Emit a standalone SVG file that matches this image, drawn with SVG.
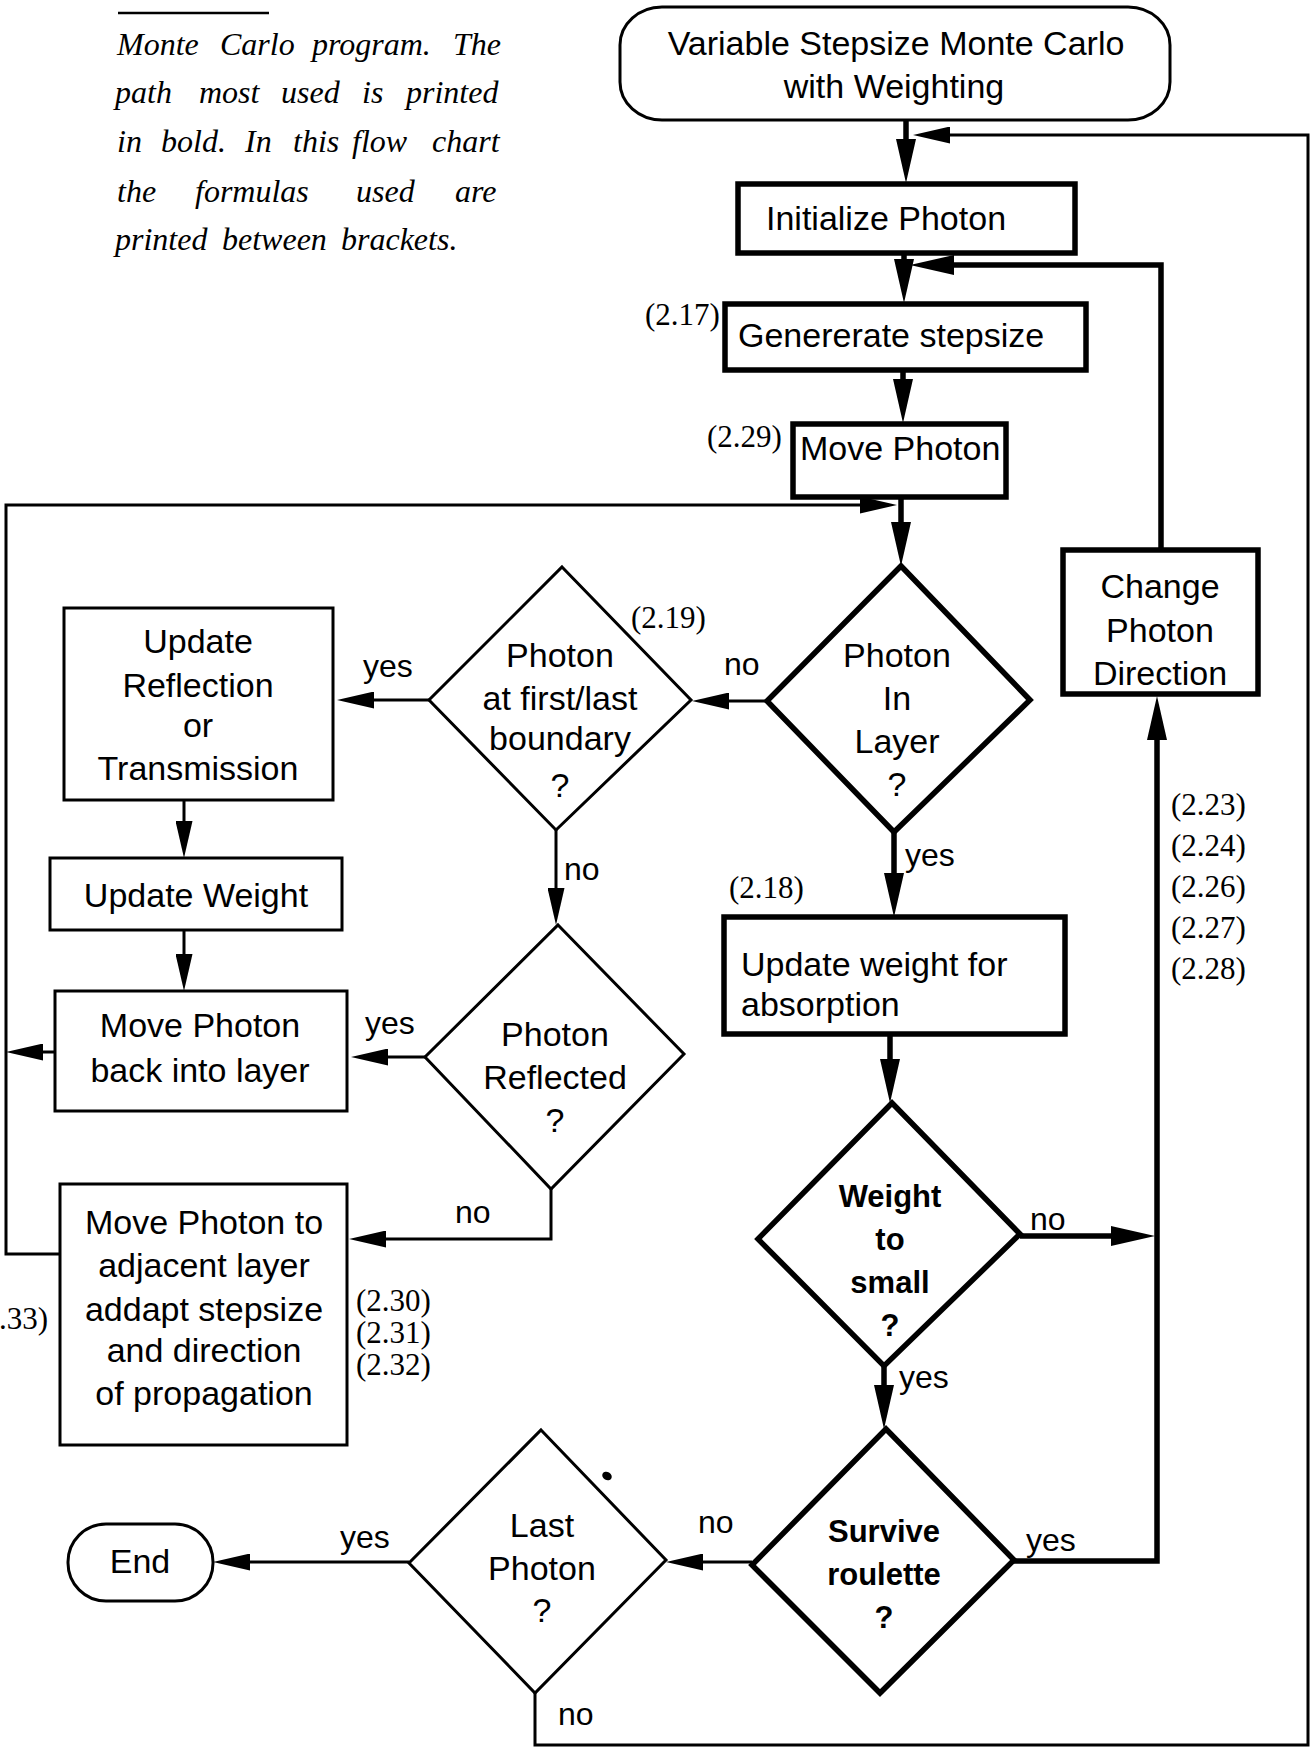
<svg xmlns="http://www.w3.org/2000/svg" width="1312" height="1749" viewBox="0 0 1312 1749">
<defs>
<style>
.bg{fill:#fff}
.thick{fill:none;stroke:#000;stroke-width:5.5;stroke-linejoin:miter}
.thin{fill:none;stroke:#000;stroke-width:3;stroke-linejoin:miter}
.node-thick{fill:#fff;stroke:#000;stroke-width:5.5}
.node-thin{fill:#fff;stroke:#000;stroke-width:3}
.t{font-family:"Liberation Sans",Arial,sans-serif;font-size:34px;fill:#000}
.c{text-anchor:middle}
.b{font-weight:bold;font-size:31px}
.lab{font-family:"Liberation Sans",Arial,sans-serif;font-size:32px;fill:#000}
.eq{font-family:"Liberation Serif","Times New Roman",serif;font-size:31px;fill:#000}
.cap{font-family:"Liberation Serif","Times New Roman",serif;font-style:italic;font-size:32px;fill:#000}
</style>
<marker id="ahT" markerUnits="userSpaceOnUse" markerWidth="44" markerHeight="20" viewBox="0 0 44 20" refX="0" refY="10" orient="auto"><path d="M0,0 L44,10 L0,20 z" fill="#000"/></marker>
<marker id="aht" markerUnits="userSpaceOnUse" markerWidth="37" markerHeight="17" viewBox="0 0 37 17" refX="0" refY="8.5" orient="auto"><path d="M0,0 L37,8.5 L0,17 z" fill="#000"/></marker>
</defs>
<rect class="bg" x="0" y="0" width="1312" height="1749"/>

<g id="caption">
<line x1="118" y1="13" x2="269" y2="13" stroke="#000" stroke-width="2.5"/>
<text class="cap" y="55"><tspan x="117">Monte</tspan><tspan x="220">Carlo</tspan><tspan x="312">program.</tspan><tspan x="453">The</tspan></text>
<text class="cap" y="103"><tspan x="115">path</tspan><tspan x="199">most</tspan><tspan x="281">used</tspan><tspan x="362">is</tspan><tspan x="406">printed</tspan></text>
<text class="cap" y="152"><tspan x="117">in</tspan><tspan x="161">bold.</tspan><tspan x="245">In</tspan><tspan x="293">this</tspan><tspan x="352">flow</tspan><tspan x="432">chart</tspan></text>
<text class="cap" y="202"><tspan x="117">the</tspan><tspan x="195">formulas</tspan><tspan x="356">used</tspan><tspan x="455">are</tspan></text>
<text class="cap" y="250"><tspan x="115">printed</tspan><tspan x="222">between</tspan><tspan x="341">brackets.</tspan></text>
</g>

<g id="connectors">
<path class="thick" d="M906,120 V139" marker-end="url(#ahT)"/>
<path class="thick" d="M904,253 V259" marker-end="url(#ahT)"/>
<path class="thick" d="M903,370 V379" marker-end="url(#ahT)"/>
<path class="thick" d="M901,497 V522" marker-end="url(#ahT)"/>
<path class="thick" d="M894,832 V873" marker-end="url(#ahT)"/>
<path class="thick" d="M890,1034 V1059" marker-end="url(#ahT)"/>
<path class="thick" d="M884,1366 V1385" marker-end="url(#ahT)"/>
<path class="thick" d="M1020,1236 H1111" marker-end="url(#ahT)"/>
<path class="thick" d="M1014,1561 H1157 V740" marker-end="url(#ahT)"/>
<path class="thick" d="M1161,550 V265 H954" marker-end="url(#ahT)"/>
<path class="thin" d="M767,701 H729" marker-end="url(#aht)"/>
<path class="thin" d="M429,700 H374" marker-end="url(#aht)"/>
<path class="thin" d="M556,830 V888" marker-end="url(#aht)"/>
<path class="thin" d="M425,1057 H388" marker-end="url(#aht)"/>
<path class="thin" d="M551,1189 V1239 H386" marker-end="url(#aht)"/>
<path class="thin" d="M184,800 V821" marker-end="url(#aht)"/>
<path class="thin" d="M184,930 V954" marker-end="url(#aht)"/>
<path class="thin" d="M55,1052 H43" marker-end="url(#aht)"/>
<path class="thin" d="M60,1254 H6 V505 H860" marker-end="url(#aht)"/>
<path class="thin" d="M752,1562 H703" marker-end="url(#aht)"/>
<path class="thin" d="M409,1562 H250" marker-end="url(#aht)"/>
<path class="thin" d="M535,1693 V1745 H1308 V135 H950" marker-end="url(#aht)"/>
<text class="lab" x="363" y="677">yes</text>
<text class="lab" x="724" y="675">no</text>
<text class="lab" x="564" y="880">no</text>
<text class="lab" x="365" y="1034">yes</text>
<text class="lab" x="455" y="1223">no</text>
<text class="lab" x="905" y="866">yes</text>
<text class="lab" x="1030" y="1230">no</text>
<text class="lab" x="899" y="1388">yes</text>
<text class="lab" x="1026" y="1551">yes</text>
<text class="lab" x="698" y="1533">no</text>
<text class="lab" x="340" y="1548">yes</text>
<text class="lab" x="558" y="1725">no</text>
<ellipse cx="607" cy="1476" rx="5" ry="4" transform="rotate(30 607 1476)" fill="#000"/>
</g>

<g id="start">
<rect class="node-thin" x="620" y="7" width="550" height="113" rx="42" ry="38"/>
<text class="t c" x="896" y="55">Variable Stepsize Monte Carlo</text>
<text class="t c" x="894" y="98">with Weighting</text>
</g>

<g id="initialize">
<rect class="node-thick" x="738" y="184" width="337" height="69"/>
<text class="t" x="766" y="230">Initialize Photon</text>
</g>

<g id="generate">
<rect class="node-thick" x="725" y="304" width="361" height="66"/>
<text class="t" x="738" y="347">Genererate stepsize</text>
<text class="eq" x="645" y="325">(2.17)</text>
</g>

<g id="move">
<rect class="node-thick" x="793" y="424" width="213" height="73"/>
<text class="t" x="800" y="460">Move Photon</text>
<text class="eq" x="707" y="447">(2.29)</text>
</g>

<g id="in-layer">
<polygon class="node-thick" points="901,566 1030,700 894,832 767,701"/>
<text class="t c" x="897" y="667">Photon</text>
<text class="t c" x="897" y="710">In</text>
<text class="t c" x="897" y="753">Layer</text>
<text class="t c" x="897" y="796">?</text>
</g>

<g id="boundary">
<polygon class="node-thin" points="562,567 691,700 556,830 429,700"/>
<text class="t c" x="560" y="667">Photon</text>
<text class="t c" x="560" y="710">at first/last</text>
<text class="t c" x="560" y="750">boundary</text>
<text class="t c" x="560" y="797">?</text>
<text class="eq" x="631" y="628">(2.19)</text>
</g>

<g id="update-reflection">
<rect class="node-thin" x="64" y="608" width="269" height="192"/>
<text class="t c" x="198" y="653">Update</text>
<text class="t c" x="198" y="697">Reflection</text>
<text class="t c" x="198" y="737">or</text>
<text class="t c" x="198" y="780">Transmission</text>
</g>

<g id="update-weight">
<rect class="node-thin" x="50" y="858" width="292" height="72"/>
<text class="t c" x="196" y="907">Update Weight</text>
</g>

<g id="move-back">
<rect class="node-thin" x="55" y="991" width="292" height="120"/>
<text class="t c" x="200" y="1037">Move Photon</text>
<text class="t c" x="200" y="1082">back into layer</text>
</g>

<g id="reflected">
<polygon class="node-thin" points="558,925 684,1054 551,1189 425,1057"/>
<text class="t c" x="555" y="1046">Photon</text>
<text class="t c" x="555" y="1089">Reflected</text>
<text class="t c" x="555" y="1132">?</text>
</g>

<g id="move-adjacent">
<rect class="node-thin" x="60" y="1184" width="287" height="261"/>
<text class="t c" x="204" y="1234">Move Photon to</text>
<text class="t c" x="204" y="1277">adjacent layer</text>
<text class="t c" x="204" y="1321">addapt stepsize</text>
<text class="t c" x="204" y="1362">and direction</text>
<text class="t c" x="204" y="1405">of propagation</text>
<text class="eq" x="356" y="1311">(2.30)</text>
<text class="eq" x="356" y="1343">(2.31)</text>
<text class="eq" x="356" y="1375">(2.32)</text>
<text class="eq" x="48" y="1329" text-anchor="end">(2.33)</text>
</g>

<g id="absorption">
<rect class="node-thick" x="724" y="917" width="341" height="117"/>
<text class="t" x="741" y="976">Update weight for</text>
<text class="t" x="741" y="1016">absorption</text>
<text class="eq" x="729" y="898">(2.18)</text>
</g>

<g id="change-direction">
<rect class="node-thick" x="1063" y="550" width="195" height="144"/>
<text class="t c" x="1160" y="598">Change</text>
<text class="t c" x="1160" y="642">Photon</text>
<text class="t c" x="1160" y="685">Direction</text>
<text class="eq" x="1171" y="815">(2.23)</text>
<text class="eq" x="1171" y="856">(2.24)</text>
<text class="eq" x="1171" y="897">(2.26)</text>
<text class="eq" x="1171" y="938">(2.27)</text>
<text class="eq" x="1171" y="979">(2.28)</text>
</g>

<g id="weight-small">
<polygon class="node-thick" points="892,1103 1020,1234 884,1366 758,1239"/>
<text class="t c b" x="890" y="1207">Weight</text>
<text class="t c b" x="890" y="1250">to</text>
<text class="t c b" x="890" y="1293">small</text>
<text class="t c b" x="890" y="1336">?</text>
</g>

<g id="survive">
<polygon class="node-thick" points="886,1429 1014,1560 880,1693 752,1565"/>
<text class="t c b" x="884" y="1542">Survive</text>
<text class="t c b" x="884" y="1585">roulette</text>
<text class="t c b" x="884" y="1628">?</text>
</g>

<g id="last-photon">
<polygon class="node-thin" points="541,1430 666,1560 535,1693 409,1563"/>
<text class="t c" x="542" y="1537">Last</text>
<text class="t c" x="542" y="1580">Photon</text>
<text class="t c" x="542" y="1622">?</text>
</g>

<g id="end">
<rect class="node-thin" x="68" y="1524" width="145" height="77" rx="38" ry="38"/>
<text class="t c" x="140" y="1573">End</text>
</g>
</svg>
